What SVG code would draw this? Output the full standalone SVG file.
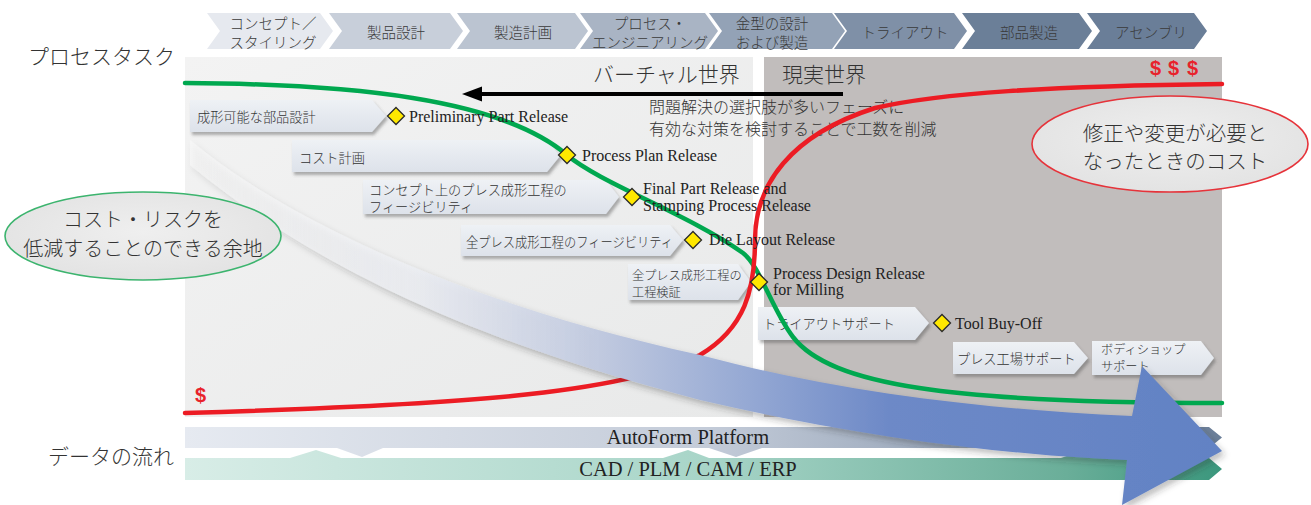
<svg xmlns="http://www.w3.org/2000/svg" width="1311" height="505" viewBox="0 0 1311 505">
<defs>
<style>
.jp{font-family:"Noto Sans CJK JP","Noto Sans CJK SC",sans-serif;font-weight:300;fill:#333}
.en{font-family:"Liberation Serif",serif;fill:#222}
.chev text{font-size:14.5px;text-anchor:middle;dominant-baseline:central;fill:#3a3a3a}
.tab path{fill:url(#tabg);filter:url(#sh)}
.tab text{font-size:13.2px;dominant-baseline:central}
.ms text{font-size:16px;dominant-baseline:central}
.dia{fill:#ffe800;stroke:#2a2a2a;stroke-width:1.3}
.big{font-size:21px;dominant-baseline:central}
.mid{font-size:16px;dominant-baseline:central}
.dollar{font-family:"Liberation Sans",sans-serif;font-weight:bold;fill:#e8222b;font-size:20px;dominant-baseline:central}
.curve{fill:none;stroke-width:4.5;stroke-linecap:round}
.bar text{font-size:20.5px;text-anchor:middle;dominant-baseline:central}
</style>
<linearGradient id="leftp" x1="0" y1="0" x2="1" y2="1">
<stop offset="0" stop-color="#f3f3f3"/><stop offset="1" stop-color="#e8e9e9"/>
</linearGradient>
<linearGradient id="tabg" x1="0" y1="0" x2="0" y2="1">
<stop offset="0" stop-color="#eef1f5"/><stop offset="1" stop-color="#dde2ea"/>
</linearGradient>
<linearGradient id="afg" x1="185" y1="0" x2="1222" y2="0" gradientUnits="userSpaceOnUse">
<stop offset="0" stop-color="#e6eaf1"/><stop offset="0.5" stop-color="#c4ccd9"/><stop offset="1" stop-color="#6a7e98"/>
</linearGradient>
<linearGradient id="cadg" x1="185" y1="0" x2="1222" y2="0" gradientUnits="userSpaceOnUse">
<stop offset="0" stop-color="#d8ede7"/><stop offset="0.5" stop-color="#a8d5c8"/><stop offset="0.85" stop-color="#6aae99"/><stop offset="1" stop-color="#3b977d"/>
</linearGradient>
<linearGradient id="arrg" x1="190" y1="0" x2="1218" y2="0" gradientUnits="userSpaceOnUse">
<stop offset="0" stop-color="#ffffff" stop-opacity="0.3"/>
<stop offset="0.22" stop-color="#eceef3" stop-opacity="0.85"/>
<stop offset="0.4" stop-color="#c0c9df"/>
<stop offset="0.55" stop-color="#93a7d3"/>
<stop offset="0.68" stop-color="#6d89c7"/>
<stop offset="1" stop-color="#6282c4"/>
</linearGradient>
<radialGradient id="ellg" cx="0.5" cy="0.45" r="0.6">
<stop offset="0" stop-color="#efefef"/><stop offset="1" stop-color="#e2e2e2"/>
</radialGradient>
<filter id="sh" x="-10%" y="-20%" width="130%" height="160%">
<feDropShadow dx="2" dy="3" stdDeviation="1.5" flood-color="#555" flood-opacity="0.45"/>
</filter>
<filter id="ash" x="-5%" y="-10%" width="115%" height="130%">
<feDropShadow dx="3" dy="4" stdDeviation="3" flood-color="#333" flood-opacity="0.3"/>
</filter>
<path id="dia" d="M0,-8.5 L8.5,0 L0,8.5 L-8.5,0Z"/>
</defs>

<rect width="1311" height="505" fill="#fff"/>

<g id="panels">
<rect x="185" y="57" width="568" height="360" fill="url(#leftp)"/>
<rect x="764" y="57" width="458" height="360" fill="#c1bdbc"/>
</g>

<g id="chevrons">
<g id="chev1" class="chev"><polygon points="207,13 320,13 333,31 320,49 207,49 220,31" fill="#e6e9ef"/><text class="jp" x="273" y="22">コンセプト／</text><text class="jp" x="273" y="41">スタイリング</text></g>
<g id="chev2" class="chev"><polygon points="329,13 450,13 463,31 450,49 329,49 342,31" fill="#c8cfda"/><text class="jp" x="396" y="31">製品設計</text></g>
<g id="chev3" class="chev"><polygon points="457,13 575,13 588,31 575,49 457,49 470,31" fill="#bbc4d1"/><text class="jp" x="523" y="31">製造計画</text></g>
<g id="chev4" class="chev"><polygon points="580,13 705,13 718,31 705,49 580,49 593,31" fill="#a9b4c4"/><text class="jp" x="650" y="22">プロセス・</text><text class="jp" x="650" y="41">エンジニアリング</text></g>
<g id="chev5" class="chev"><polygon points="709,13 832,13 845,31 832,49 709,49 722,31" fill="#93a2b6"/><text class="jp" x="772" y="22">金型の設計</text><text class="jp" x="772" y="41">および製造</text></g>
<g id="chev6" class="chev"><polygon points="834,13 954,13 967,31 954,49 834,49 847,31" fill="#7f90a7"/><text class="jp" x="905" y="31">トライアウト</text></g>
<g id="chev7" class="chev"><polygon points="962,13 1079,13 1092,31 1079,49 962,49 975,31" fill="#6b7f98"/><text class="jp" x="1029" y="31">部品製造</text></g>
<g id="chev8" class="chev"><polygon points="1087,13 1194,13 1207,31 1194,49 1087,49 1100,31" fill="#6a7e98"/><text class="jp" x="1151" y="31">アセンブリ</text></g>
</g>

<g id="side-labels">
<text class="jp big" x="28" y="55">プロセスタスク</text>
<text class="jp big" x="48" y="455">データの流れ</text>
</g>

<g id="world-labels">
<text class="jp big" x="593" y="73">バーチャル世界</text>
<text class="jp big" x="782" y="73">現実世界</text>
<text class="jp mid" x="649" y="106">問題解決の選択肢が多いフェーズに</text>
<text class="jp mid" x="649" y="128">有効な対策を検討することで工数を削減</text>
<text class="dollar" x="1150" y="68">$</text>
<text class="dollar" x="1168" y="68">$</text>
<text class="dollar" x="1187" y="68">$</text>
<text class="dollar" x="195" y="395">$</text>
</g>

<g id="data-bars" class="bar">
<g id="autoform"><path d="M185,427 H1209 L1222,437.5 L1209,448 H762 L736,457 L709,448 H383 L362,457 L337,448 H185 Z" fill="url(#afg)"/><text class="en" x="688" y="437">AutoForm Platform</text></g>
<g id="cad"><path d="M185,458 H290 L316,450 L341,458 H663 L688,450 L709,458 H1061 L1084,450 L1106,458 H1209 L1222,469 L1209,480 H185 Z" fill="url(#cadg)"/><text class="en" x="688" y="469">CAD / PLM / CAM / ERP</text></g>
</g>

<g id="tabs">
<g id="tab1" class="tab"><path d="M190,100 H372 L386,116 L372,132 H190 Z"/><text class="jp" x="197" y="116">成形可能な部品設計</text></g>
<g id="tab2" class="tab"><path d="M292,140 H547 L560,156 L547,172 H292 Z"/><text class="jp" x="299" y="157">コスト計画</text></g>
<g id="tab3" class="tab"><path d="M363,180 H606 L619,197 L606,214 H363 Z"/><text class="jp" x="369" y="189">コンセプト上のプレス成形工程の</text><text class="jp" x="369" y="206">フィージビリティ</text></g>
<g id="tab4" class="tab"><path d="M461,225 H670 L683,240 L670,256 H461 Z"/><text class="jp" x="466" y="241" textLength="207" lengthAdjust="spacingAndGlyphs">全プレス成形工程のフィージビリティ</text></g>
<g id="tab5" class="tab"><path d="M628,264 H738 L751,282 L738,300 H628 Z"/><text class="jp" x="632" y="275" style="font-size:12.2px">全プレス成形工程の</text><text class="jp" x="632" y="292" style="font-size:12.2px">工程検証</text></g>
<g id="tab6" class="tab"><path d="M758,307 H915 L929,323 L915,340 H758 Z"/><text class="jp" x="763" y="323">トライアウトサポート</text></g>
<g id="tab7" class="tab"><path d="M953,342 H1074 L1088,358 L1074,374 H953 Z"/><text class="jp" x="957" y="358">プレス工場サポート</text></g>
<g id="tab8" class="tab"><path d="M1092,341 H1201 L1214,358 L1201,375 H1092 Z"/><text class="jp" x="1101" y="349" style="font-size:12.2px">ボディショップ</text><text class="jp" x="1101" y="366" style="font-size:12.2px">サポート</text></g>
</g>

<g id="curves">
<path id="green" class="curve" stroke="#00a84f" d="M185,83 C350,84 500,98 567,155 C600,183 690,215 743,253 C760,266 772,310 793,337 C830,385 950,403 1222,403"/>
<path id="red" class="curve" stroke="#ec1c24" d="M185,413 C450,405 620,395 700,355 C745,328 755,290 755,240 C755,185 790,135 875,108 C940,93 1050,86 1222,84"/>
</g>

<g id="milestones" class="ms">
<g id="ms1"><use href="#dia" class="dia" transform="translate(396,116)"/><text class="en" x="409" y="116">Preliminary Part Release</text></g>
<g id="ms2"><use href="#dia" class="dia" transform="translate(567,155)"/><text class="en" x="582" y="155">Process Plan Release</text></g>
<g id="ms3"><use href="#dia" class="dia" transform="translate(632,197)"/><text class="en" x="643" y="188">Final Part Release and</text><text class="en" x="643" y="205">Stamping Process Release</text></g>
<g id="ms4"><use href="#dia" class="dia" transform="translate(693,240)"/><text class="en" x="709" y="239">Die Layout Release</text></g>
<g id="ms5"><use href="#dia" class="dia" transform="translate(759,282)"/><text class="en" x="773" y="273">Process Design Release</text><text class="en" x="773" y="289">for Milling</text></g>
<g id="ms6"><use href="#dia" class="dia" transform="translate(942,323)"/><text class="en" x="955" y="323">Tool Buy-Off</text></g>
</g>

<g id="big-arrow">
<path d="M190,140 C280,215 450,300 700,355 C850,395 1000,410 1132,416 L1142,366 L1222,451 L1122,505 L1127,460 C1000,455 850,435 700,400 C450,335 300,255 190,165 Z" fill="url(#arrg)" filter="url(#ash)"/>
</g>

<g id="ellipses">
<g id="cost-risk"><ellipse cx="143" cy="236" rx="138" ry="44" fill="url(#ellg)" stroke="#3cb46e" stroke-width="1.6"/><text class="jp big" x="143" y="218" text-anchor="middle" style="font-size:20px">コスト・リスクを</text><text class="jp big" x="143" y="247" text-anchor="middle" style="font-size:20px">低減することのできる余地</text></g>
<g id="change-cost"><ellipse cx="1170" cy="144" rx="138" ry="48" fill="url(#ellg)" stroke="#e6333a" stroke-width="1.6"/><text class="jp big" x="1175" y="132" text-anchor="middle" style="font-size:20.5px">修正や変更が必要と</text><text class="jp big" x="1175" y="160" text-anchor="middle" style="font-size:20.5px">なったときのコスト</text></g>
</g>

<g id="connectors">
<line x1="843" y1="94" x2="478" y2="94" stroke="#000" stroke-width="4"/>
<polygon points="462,94 482,86.5 482,101.5" fill="#000"/>
</g>
</svg>
